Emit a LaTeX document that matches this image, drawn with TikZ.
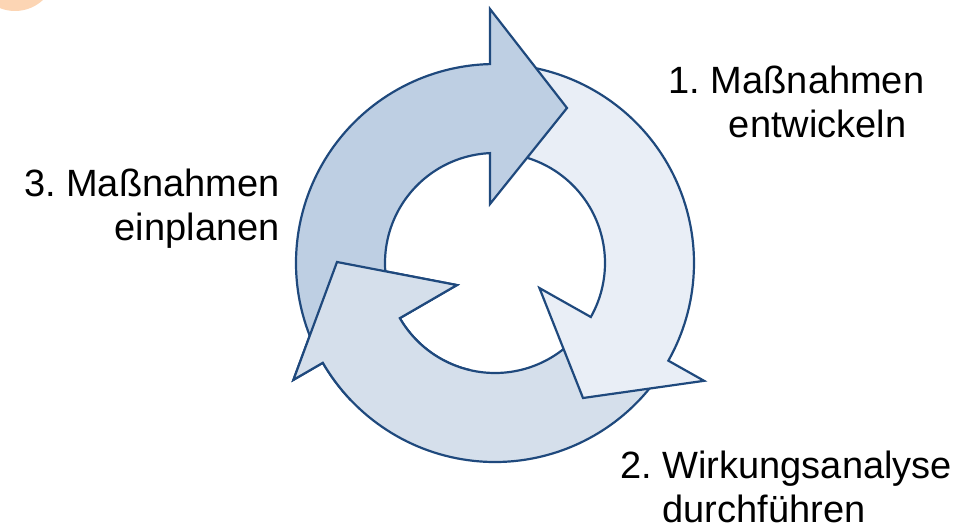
\documentclass[tikz,border=0pt]{standalone}
\usepackage{fontspec}
\setmainfont{Liberation Sans}
\usetikzlibrary{positioning}
\frenchspacing

\definecolor{edge}{RGB}{31,73,125}
\definecolor{fillone}{RGB}{190,207,227}
\definecolor{filltwo}{RGB}{233,238,246}
\definecolor{fillthree}{RGB}{213,223,235}
\definecolor{peach}{RGB}{252,213,180}

% the three ring arrows, centre of the ring at (0,0)
\newcommand{\arrowone}{(204:199) arc[start angle=204, end angle=91.44, radius=199]
  -- (-5,254) -- (72,155) -- (-5,59) -- (92.6:110)
  arc[start angle=92.6, end angle=204, radius=110] -- cycle}
\newcommand{\arrowtwo}{(84:199) arc[start angle=84, end angle=-29.4, radius=199]
  -- (-29.4:240) -- (88,-135) -- (-29.4:51) -- (-29.4:110)
  arc[start angle=-29.4, end angle=84, radius=110] -- cycle}
\newcommand{\arrowthree}{(-36:199) arc[start angle=-36, end angle=-149.9, radius=199]
  -- (210.1:233) -- (-158,1) -- (210.1:44) -- (210.1:110)
  arc[start angle=210.1, end angle=324, radius=110] -- cycle}

\begin{document}
\begin{tikzpicture}[
  x=0.5pt, y=0.5pt,
  cycarrow/.style={draw=edge, line width=1.1pt, line join=miter},
  steptext/.style={font=\fontsize{19}{22}\selectfont, inner sep=0pt}
]
\clip (-495,-267) rectangle (477,263);
\fill[peach] (-480,293) circle[radius=41];

\coordinate (hub) at (0,0);
\path[cycarrow, fill=fillthree] \arrowthree;
\path[cycarrow, fill=filltwo] \arrowtwo;
\path[cycarrow, fill=fillone] \arrowone;
% head of arrow 3 lies over the tail of arrow 1
\begin{scope}
  \clip (-215,23) rectangle (-25,-137);
  \path[cycarrow, fill=fillthree] \arrowthree;
\end{scope}

\node[steptext, align=center, anchor=base] (stepone) at (301.5,125.5)
  {1. Maßnahmen\\\hphantom{1.\ }entwickeln};
\node[steptext, align=left, anchor=base west] (steptwo) at (125,-259)
  {2. Wirkungsanalyse\\\hphantom{2.\ }durchführen};
\node[steptext, align=right, anchor=base east] (stepthree) at (-215,23)
  {3. Maßnahmen\\einplanen};
\end{tikzpicture}
\end{document}
